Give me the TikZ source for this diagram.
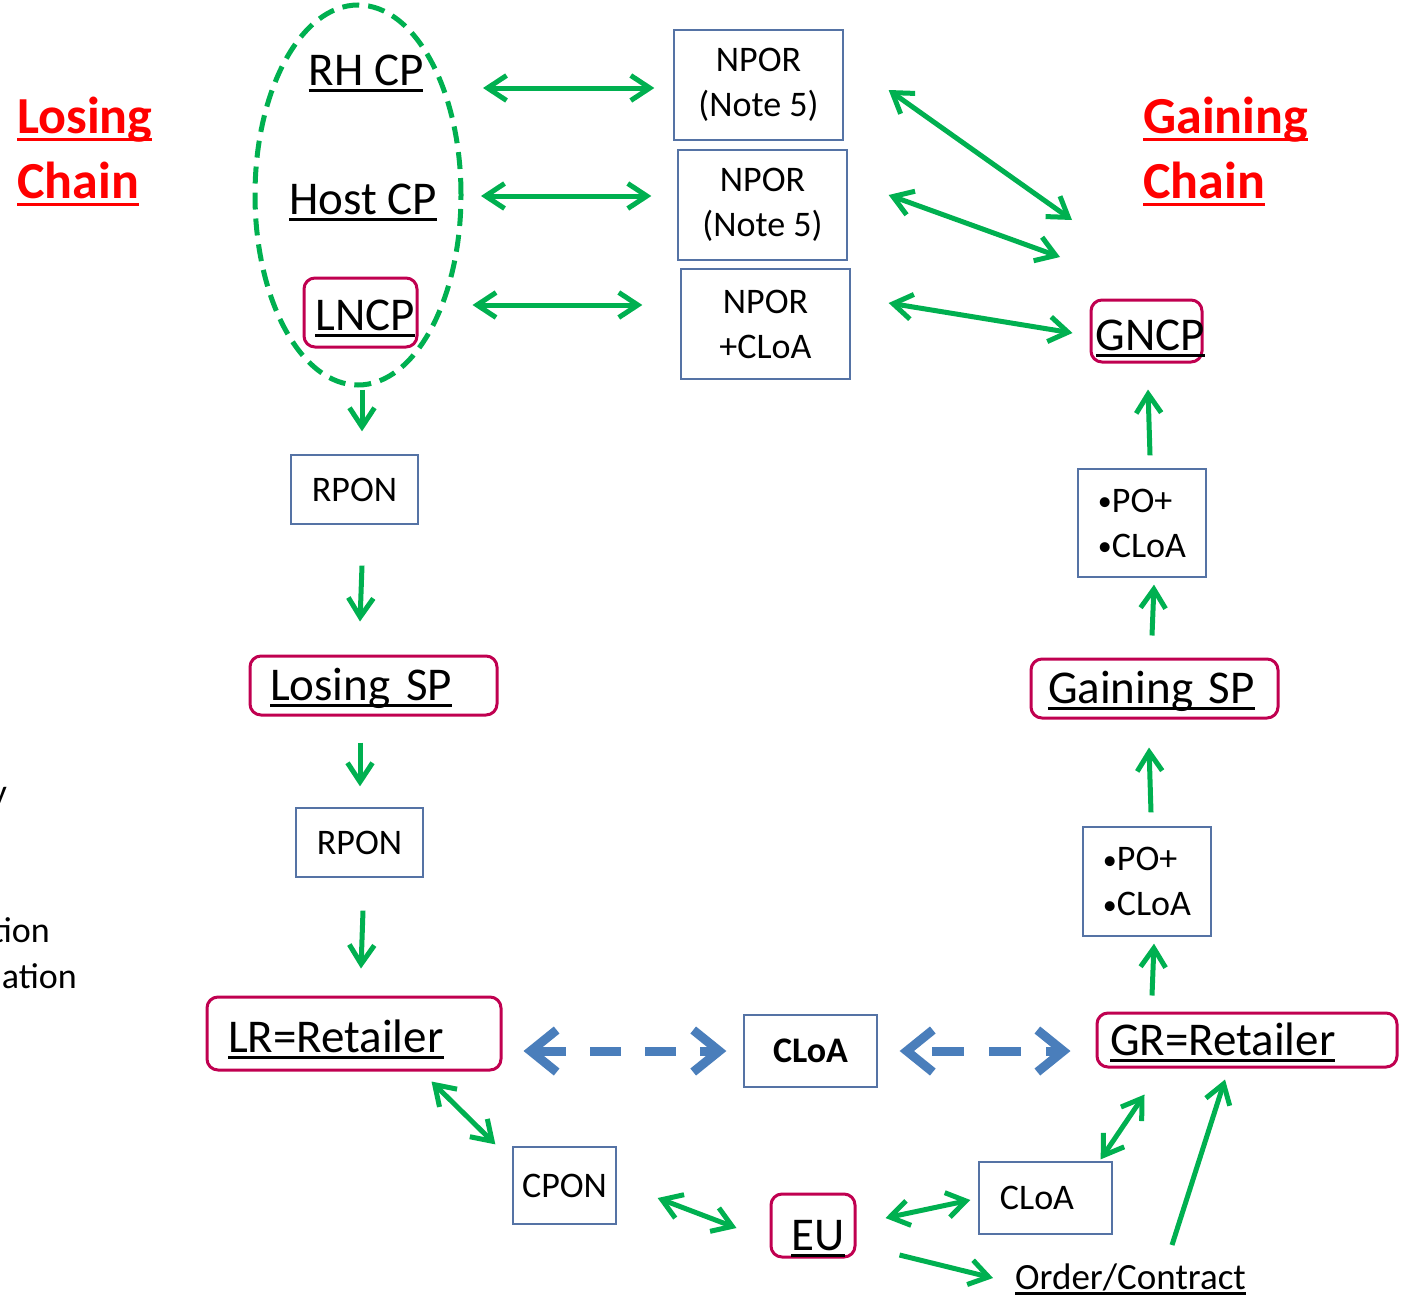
\documentclass[tikz,border=0pt]{standalone}
\usepackage{fontspec}
\setmainfont{Carlito}
\usetikzlibrary{arrows.meta,calc,shapes.geometric}

\definecolor{arrowgreen}{RGB}{0,176,80}
\definecolor{dashblue}{RGB}{74,126,187}
\definecolor{boxred}{RGB}{192,0,80}
\definecolor{boxblue}{RGB}{85,115,165}
\definecolor{chainred}{RGB}{255,0,0}

% underline drawn as a rule scaled to the current font
\newsavebox\ulinebox
\newcommand\ulined[1]{\sbox\ulinebox{#1}\rlap{\rule[-0.155em]{\wd\ulinebox}{0.065em}}\usebox\ulinebox}
% small list bullet
\newcommand\itembullet{{\fontsize{28}{28}\selectfont\raisebox{1.5pt}{•}}}

\tikzset{
  party/.style={draw=boxred, line width=3pt, rounded corners=11pt,
    inner xsep=0pt, inner ysep=0pt, text depth=10pt,
    font=\fontsize{47}{56}\selectfont},
  doc/.style={draw=boxblue, line width=1.3pt, inner sep=0pt,
    font=\fontsize{36}{45}\selectfont},
  plainlabel/.style={inner sep=0pt, font=\fontsize{47}{56}\selectfont},
  smalllabel/.style={inner sep=0pt, font=\fontsize{36}{45}\selectfont},
  chain/.style={inner sep=0pt, text=chainred,
    font=\fontsize{52}{63}\selectfont\bfseries},
  flow/.style={draw=arrowgreen, line width=5pt, -{Straight Barb[length=19pt,width=25pt]}},
  flowboth/.style={draw=arrowgreen, line width=5pt,
    {Straight Barb[length=19pt,width=25pt]}-{Straight Barb[length=19pt,width=25pt]}},
  cloalink/.style={draw=dashblue, line width=9pt,
    {Straight Barb[length=26pt,width=42pt]}-{Straight Barb[length=26pt,width=42pt]}},
}

\begin{document}
\begin{tikzpicture}[x=1pt,y=-1pt]
\useasboundingbox (0,0) rectangle (1412,1298);

% chain headings
\node[chain, anchor=base west] (lose1) at (17,133) {\ulined{Losing}};
\node[chain, anchor=base west] (lose2) at (17,198) {\ulined{Chain}};
\node[chain, anchor=base west] (gain1) at (1143,133) {\ulined{Gaining}};
\node[chain, anchor=base west] (gain2) at (1143,198) {\ulined{Chain}};

% text running in from the left margin
\node[smalllabel, anchor=base east] (frag1) at (7,804) {y};
\node[smalllabel, anchor=base east] (frag2) at (50,942) {tion};
\node[smalllabel, anchor=base east] (frag3) at (77,988) {ation};

% losing-side communications providers
\node[ellipse, draw=arrowgreen, line width=5pt, dash pattern=on 17pt off 9pt,
  minimum width=206pt, minimum height=380pt, inner sep=0pt] (grp) at (358,195) {};
\node[plainlabel, anchor=base] (rhcp) at (366,85) {\ulined{RH CP}};
\node[plainlabel, anchor=base] (hostcp) at (363,214) {\ulined{Host CP}};
\node[party, minimum width=113pt, minimum height=69pt, text height=45pt]
  (lncp) at (360.5,312.5) {\kern4.5pt\ulined{LNCP}\kern-4.5pt};

% NPOR notices
\node[doc, align=center, minimum width=169pt, minimum height=110pt]
  (npor1) at (758.5,85) {NPOR\\(Note 5)};
\node[doc, align=center, minimum width=169pt, minimum height=110pt]
  (npor2) at (762.5,205) {NPOR\\(Note 5)};
\node[doc, align=center, minimum width=169pt, minimum height=110pt]
  (npor3) at (765.5,324) {NPOR\\+CLoA};

% losing chain
\node[doc, minimum width=127pt, minimum height=69pt] (rpon1) at (354.5,489.5) {RPON};
\node[party, text width=207pt, align=left, inner xsep=20pt, minimum height=59pt,
  text height=39pt] (lsp) at (373.5,685.5) {\ulined{Losing SP}};
\node[doc, minimum width=127pt, minimum height=69pt] (rpon2) at (359.5,842.5) {RPON};
\node[party, text width=252pt, align=left, inner xsep=21pt, minimum height=73pt,
  text height=47pt] (lr) at (354,1033.5) {\ulined{LR=Retailer}};

% gaining chain
\node[party, minimum width=111pt, minimum height=62pt, text height=48pt]
  (gncp) at (1146.5,331) {\kern4pt\ulined{GNCP}\kern-4pt};
\node[doc, align=left, minimum width=128pt, minimum height=108pt]
  (po1) at (1142,523) {\itembullet PO+\\\itembullet CLoA};
\node[party, text width=213pt, align=left, inner xsep=17pt, minimum height=59pt,
  text height=39pt] (gsp) at (1154.5,688.5) {\ulined{Gaining SP}};
\node[doc, align=left, minimum width=128pt, minimum height=109pt]
  (po2) at (1147,881.5) {\itembullet PO+\\\itembullet CLoA};
\node[party, text width=274pt, align=left, inner xsep=13pt, minimum height=54pt,
  text height=40pt] (gr) at (1247,1040) {\ulined{GR=Retailer}};

% end user side
\node[doc, minimum width=133pt, minimum height=72pt] (cloac) at (810.5,1051) {\bfseries CLoA};
\node[doc, minimum width=103pt, minimum height=77pt] (cpon) at (564.5,1185.5) {CPON};
\node[party, minimum width=84pt, minimum height=63pt, text height=56pt, text depth=7pt]
  (eu) at (813,1225.5) {\kern5pt\ulined{EU}\kern-5pt};
\node[doc, minimum width=133pt, minimum height=72pt] (cloab) at (1045.5,1198) {\kern-8.5pt CLoA\kern8.5pt};
\node[smalllabel, font=\fontsize{37}{45}\selectfont, anchor=base west] (order) at (1015,1289) {\ulined{Order/Contract}};

% CP to NPOR and NPOR to gaining side
\draw[flowboth] ($(rhcp.base)+(117,3)$) -- ($(npor1.west)+(-19,3)$);
\draw[flowboth] ($(hostcp.base)+(118,-18)$) -- ($(npor2.west)+(-26,-9)$);
\draw[flowboth] ($(lncp.east)+(54,-7.5)$) -- ($(npor3.west)+(-38,-19)$);
\draw[flowboth] ($(npor1.east)+(45,5)$) -- ($(gain2.base west)+(-71,22)$);
\draw[flowboth] ($(npor2.east)+(41,-10)$) -- ($(gain2.base west)+(-83,59)$);
\draw[flowboth] ($(npor3.east)+(38,-21)$) -- ($(gncp.west)+(-17,2)$);

% losing chain, downwards
\draw[flow] ($(grp.south)+(4,2)$) -- ($(rpon1.north)+(7.5,-23)$);
\draw[flow] ($(rpon1.south)+(7.5,41)$) -- ($(lsp.north)+(-13.5,-33)$);
\draw[flow] ($(lsp.south)+(-13.5,26)$) -- ($(rpon2.north)+(0.5,-21)$);
\draw[flow] ($(rpon2.south)+(3.5,33)$) -- ($(lr.north)+(7,-27)$);

% end user links
\draw[flowboth] ($(lr.south east)+(-71,10)$) -- ($(cpon.north west)+(-17,-2)$);
\draw[flowboth] ($(cpon.east)+(41,12.5)$) -- ($(eu.west)+(-33,2.5)$);
\draw[flowboth] ($(eu.east)+(29,-7.5)$) -- ($(cloab.west)+(-8,2)$);
\draw[flow] ($(eu.east)+(43,29.5)$) -- ($(order.base west)+(-22,-11)$);
\draw[flowboth] ($(cloab.north east)+(-12,-2)$) -- ($(gr.south west)+(49,26)$);
\draw[flow] ($(order.base west)+(157,-44)$) -- ($(gr.south)+(-22,11)$);

% gaining chain, upwards
\draw[flow] ($(gr.north)+(-95,-16)$) -- ($(po2.south)+(7,7)$);
\draw[flow] ($(po2.north)+(4,-14)$) -- ($(gsp.south)+(-5.5,28)$);
\draw[flow] ($(gsp.north)+(-2.5,-22)$) -- ($(po1.south)+(12,7)$);
\draw[flow] ($(po1.north)+(8,-13)$) -- ($(gncp.south)+(1.5,26)$);

% retailer to retailer consent
\draw[cloalink, dash pattern=on 31pt off 24pt] ($(lr.east)+(21,17.5)$) -- ($(cloac.west)+(-17,0)$);
\draw[cloalink, dash pattern=on 32pt off 25pt, dash phase=36pt] ($(cloac.east)+(22,0)$) -- ($(gr.west)+(-25,11)$);
\end{tikzpicture}
\end{document}
